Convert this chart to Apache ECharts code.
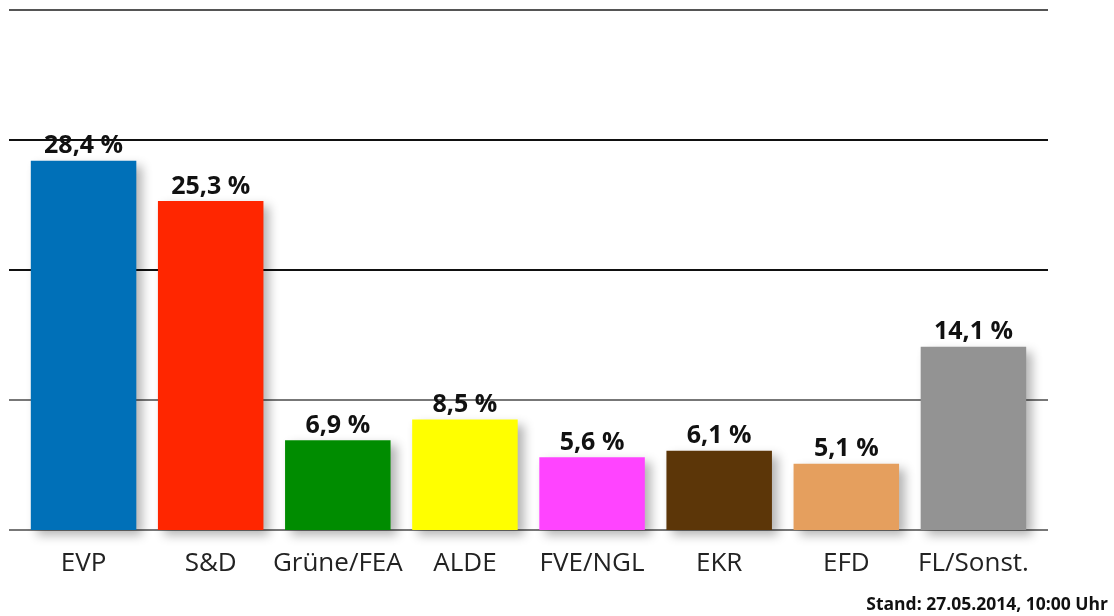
<!DOCTYPE html>
<html><head><meta charset="utf-8">
<script src="https://cdn.jsdelivr.net/npm/echarts@6/dist/echarts.min.js"></script>
<style>html,body{margin:0;padding:0;background:#fff}#c{width:1114px;height:616px}</style>
</head><body><div id="c"></div>
<script>
const categories = ['EVP','S&D','Grüne/FEA','ALDE','FVE/NGL','EKR','EFD','FL/Sonst.'];
const values = [28.4, 25.3, 6.9, 8.5, 5.6, 6.1, 5.1, 14.1];
const barColors = ['#0070b8','#ff2600','#008c00','#ffff00','#ff44ff','#5c3608','#e59f5e','#939393'];
const footnote = 'Stand: 27.05.2014, 10:00 Uhr';

const font = '"Open Sans", Lato, sans-serif';
const chart = echarts.init(document.getElementById('c'));
chart.setOption({
  animation: false,
  grid: [
    {left: 9, right: 66, top: 10, bottom: 86},
    {left: 20, right: 77, top: 10, bottom: 86}
  ],
  xAxis: [
    {gridIndex: 0, type: 'value', show: false, min: 0, max: 1},
    {gridIndex: 1, type: 'category', data: categories,
     axisLine: {show: false}, axisTick: {show: false},
     axisLabel: {interval: 0, fontFamily: font, fontSize: 26, color: '#222', margin: 21}}
  ],
  yAxis: [
    {gridIndex: 0, type: 'value', min: 0, max: 40, interval: 10,
     axisLabel: {show: false}, axisLine: {show: false}, axisTick: {show: false},
     splitLine: {show: true, lineStyle: {width: 2, color: ['#777','#777','#111','#111','#555']}}},
    {gridIndex: 1, type: 'value', min: 0, max: 40, interval: 10, show: false,
     splitLine: {show: false}}
  ],
  series: [{
    type: 'bar', xAxisIndex: 1, yAxisIndex: 1,
    barCategoryGap: '17%',
    data: values.map((v, i) => ({value: v, itemStyle: {color: barColors[i]}})),
    itemStyle: {shadowBlur: 10, shadowOffsetX: 6, shadowOffsetY: 5, shadowColor: 'rgba(0,0,0,0.3)'},
    label: {show: true, position: 'top', distance: 2, fontFamily: font, fontWeight: 'bold',
      fontSize: 25, color: '#111',
      formatter: p => String(p.value).replace('.', ',') + ' %'}
  }],
  graphic: [{type: 'text', right: 6, bottom: 2,
    style: {text: footnote, font: 'bold 17.5px ' + font, fill: '#111'}}]
});
</script></body></html>
